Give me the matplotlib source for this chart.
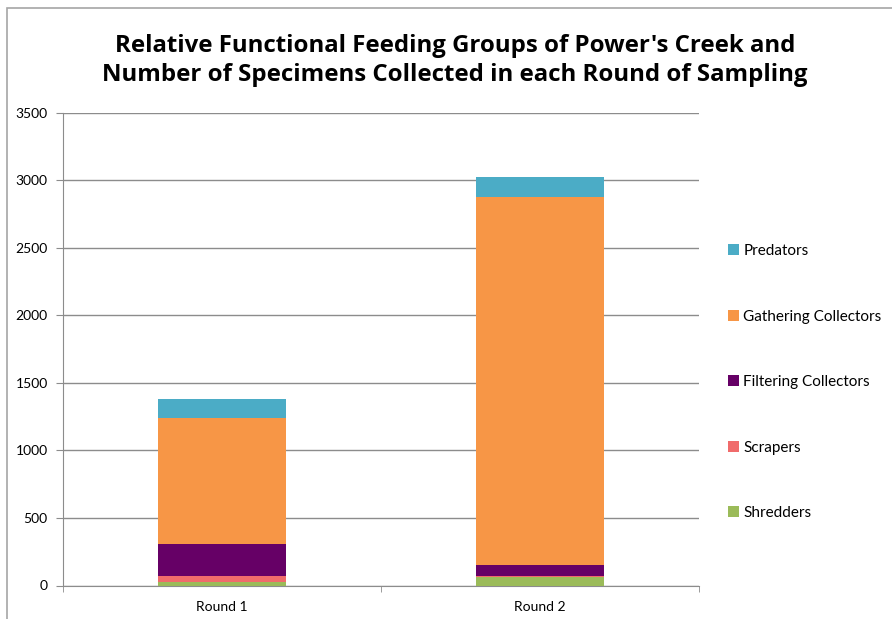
import numpy as np
import matplotlib
matplotlib.use("Agg")
from matplotlib import pyplot as plt
from matplotlib.patches import Rectangle, Patch

plt.rcParams['font.family'] = ['Lato', 'DejaVu Sans']

# specimens per functional feeding group, bottom to top of the stack
rounds = ["Round 1", "Round 2"]
groups = ["Shredders", "Scrapers", "Filtering Collectors", "Gathering Collectors", "Predators"]
shredders = [28, 64]
scrapers = [45, 5]
filtering = [232, 82]
gathering = [937, 2725]
predators = [140, 148]
colors = ["#9BBB59", "#F06B6B", "#660066", "#F79646", "#4BACC6"]

counts = [shredders, scrapers, filtering, gathering, predators]

W, H = 892, 619
fig = plt.figure(figsize=(W / 100, H / 100), dpi=100)
ax = fig.add_axes([63 / W, 1 - 585.5 / H, (699 - 63) / W, (585.5 - 112.7) / H])

x = np.arange(len(rounds))
bottom = np.zeros(len(rounds))
handles = []
for name, vals, c in zip(groups, counts, colors):
    ax.bar(x, vals, width=0.4, bottom=bottom, color=c, zorder=3, linewidth=0)
    bottom += np.array(vals)
    handles.append(Patch(facecolor=c, edgecolor='none', label=name))

ax.set_xlim(-0.5, 1.5)
ax.set_ylim(0, 3500)
ax.set_yticks(np.arange(0, 3501, 500))
ax.yaxis.grid(True, color="#8c8c8c", linewidth=1.0, zorder=0)
ax.set_axisbelow(True)

for s in ["top", "right"]:
    ax.spines[s].set_visible(False)
ax.spines["left"].set_color("#8c8c8c")
ax.spines["bottom"].set_color("#8c8c8c")

# category labels in the middle, tick marks on the category boundaries
ax.set_xticks(x)
ax.set_xticklabels(rounds, fontsize=10)
ax.set_xticks([-0.5, 0.5, 1.5], minor=True)
ax.tick_params(axis='x', which='major', length=0, pad=11)
ax.tick_params(axis='x', which='minor', length=4, color="#8c8c8c", direction='out')
ax.tick_params(axis='y', length=5, color="#8c8c8c", labelsize=10, pad=6)

fig.text(455 / W, 1 - 60.5 / H,
         "Relative Functional Feeding Groups of Power's Creek and\n"
         "Number of Specimens Collected in each Round of Sampling",
         ha='center', va='center', fontsize=17.3, fontweight='bold',
         family=['Open Sans', 'DejaVu Sans'], linespacing=1.33)

leg = fig.legend(handles=handles[::-1], loc='upper left',
                 bbox_to_anchor=(722 / W, 1 - 238 / H), frameon=False,
                 fontsize=11, handlelength=0.7, handleheight=0.7,
                 handletextpad=0.3, labelspacing=3.37, borderaxespad=0)

# light frame around the chart area
fig.patches.append(Rectangle((7 / W, -0.05), 1.2, 1 - 8 / H + 0.05,
                             transform=fig.transFigure, fill=False,
                             edgecolor="#a6a6a6", linewidth=1.2))

fig.savefig("out.png", dpi=100)
